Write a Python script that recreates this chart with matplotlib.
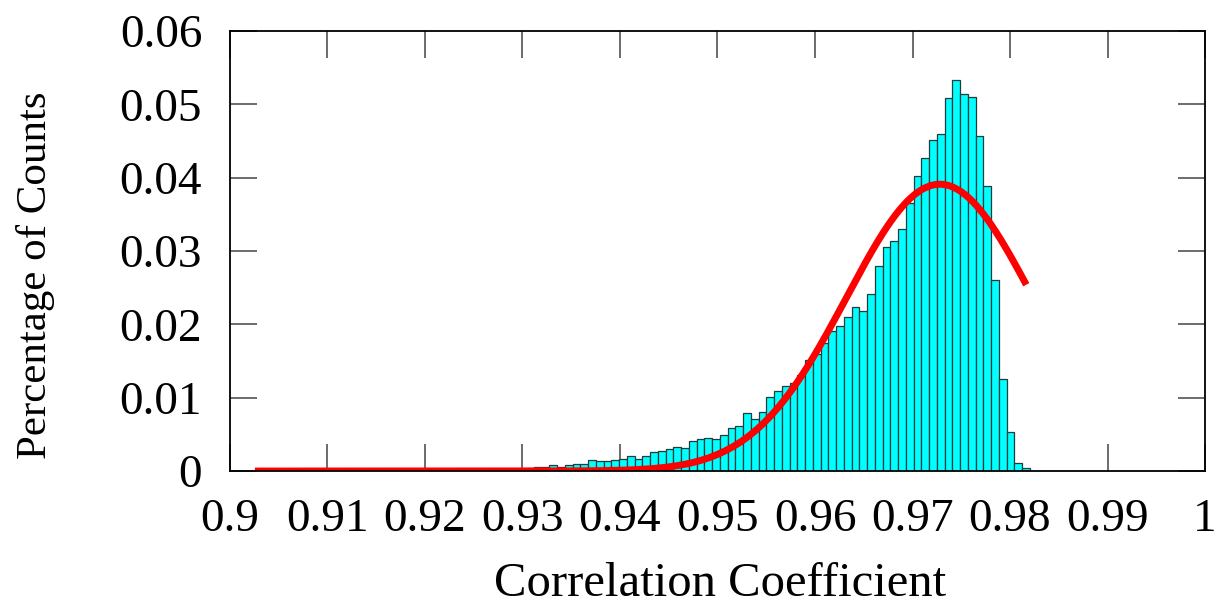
import numpy as np
import matplotlib
matplotlib.use("Agg")
import matplotlib.pyplot as plt

# ---- data ----
data_min = 0.90255
data_max = 0.98205
n_bins = 100
bin_fraction = [0.0] * 30 + [
    0.0001, 0.0001, 0.0002, 0.0002, 0.0003, 0.0004,
    0.0006, 0.0005, 0.0008, 0.0006, 0.0008, 0.0010, 0.0010, 0.0015, 0.0013, 0.0014,
    0.0015, 0.0017, 0.0021, 0.0017, 0.0021, 0.0026, 0.0027, 0.0030, 0.0033, 0.0032,
    0.0041, 0.0044, 0.0045, 0.0044, 0.0049, 0.0059, 0.0062, 0.0079, 0.0071, 0.0081,
    0.0101, 0.0109, 0.0116, 0.0120, 0.0131, 0.0151, 0.0160, 0.0174, 0.0191, 0.0198,
    0.0210, 0.0224, 0.0218, 0.0242, 0.0280, 0.0306, 0.0314, 0.0330, 0.0365, 0.0402,
    0.0427, 0.0452, 0.0459, 0.0508, 0.0533, 0.0514, 0.0510, 0.0457, 0.0388, 0.0261,
    0.0125, 0.0053, 0.0011, 0.0004,
]
# Gaussian fit parameters (red curve)
fit_mean = 0.9728
fit_std = 0.00955
fit_peak = 0.0391
fit_start = 0.90255
fit_end = 0.98167

x_ticks = [0.9, 0.91, 0.92, 0.93, 0.94, 0.95, 0.96, 0.97, 0.98, 0.99, 1.0]
x_tick_labels = ["0.9", "0.91", "0.92", "0.93", "0.94", "0.95", "0.96", "0.97", "0.98", "0.99", "1"]
y_ticks = [0, 0.01, 0.02, 0.03, 0.04, 0.05, 0.06]
y_tick_labels = ["0", "0.01", "0.02", "0.03", "0.04", "0.05", "0.06"]
x_label = "Correlation Coefficient"
y_label = "Percentage of Counts"

# ---- plot ----
plt.rcParams['font.family'] = ['Liberation Serif', 'DejaVu Serif']
fig = plt.figure(figsize=(12.22, 6.11), dpi=100)
ax = fig.add_axes([0.1882, 0.2291, 0.9861 - 0.1882, 0.9493 - 0.2291])

edges = np.linspace(data_min, data_max, n_bins + 1)
widths = np.diff(edges)
ax.bar(edges[:-1], bin_fraction, width=widths, align='edge',
       color='#00FFFF', edgecolor='#1f3b3b', linewidth=0.9, zorder=2)

xs = np.linspace(fit_start, fit_end, 400)
ys = fit_peak * np.exp(-0.5 * ((xs - fit_mean) / fit_std) ** 2)
ax.plot(xs, ys, color='#FF0000', linewidth=5.0, zorder=3, solid_capstyle='butt')

ax.set_xlim(0.9, 1.0)
ax.set_ylim(0, 0.06)
ax.set_xticks(x_ticks)
ax.set_xticklabels(x_tick_labels)
ax.set_yticks(y_ticks)
ax.set_yticklabels(y_tick_labels)
ax.tick_params(direction='in', length=19.5, width=1.1, color='#444444',
               top=True, right=True, labelsize=34)
ax.tick_params(axis='x', pad=20)
ax.tick_params(axis='y', pad=20)
for s in ax.spines.values():
    s.set_linewidth(1.3)
    s.set_zorder(4)

ax.set_xlabel(x_label, fontsize=35, ha='center', va='center')
ax.xaxis.set_label_coords(0.5026, -0.2575)
ax.set_ylabel(y_label, fontsize=31, ha='center', va='center')
ax.yaxis.set_label_coords(-0.199, 0.445)

fig.savefig("out.png", dpi=100)
